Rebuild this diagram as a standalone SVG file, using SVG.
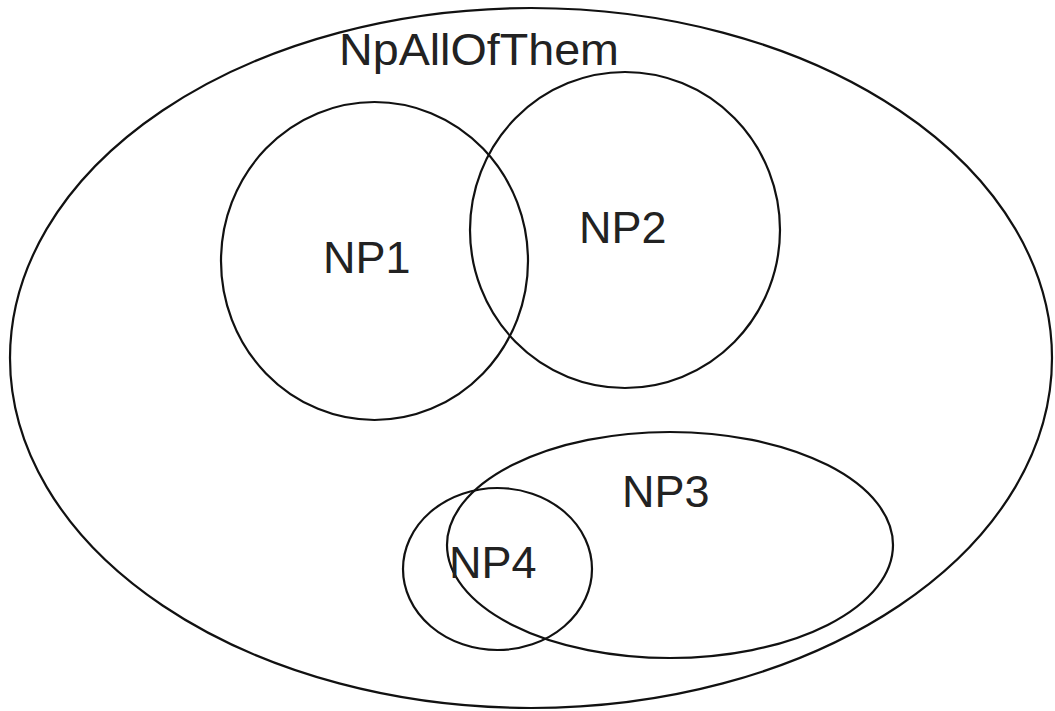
<svg xmlns="http://www.w3.org/2000/svg" width="1055" height="711" viewBox="0 0 1055 711">
<style>
.s{fill:none;stroke:#111;stroke-width:2.2}
.t{font-family:"Liberation Sans",Arial,sans-serif;font-size:45px;fill:#222}
</style>
<rect width="1055" height="711" fill="#fff"/>
<g id="all"><ellipse class="s" cx="531" cy="358" rx="521" ry="350"/><text class="t" x="339" y="65" textLength="280" lengthAdjust="spacingAndGlyphs">NpAllOfThem</text></g>
<g id="np1"><ellipse class="s" cx="374.5" cy="261" rx="153.5" ry="159"/><text class="t" x="323" y="273">NP1</text></g>
<g id="np2"><ellipse class="s" cx="625" cy="230" rx="155" ry="158"/><text class="t" x="579" y="243">NP2</text></g>
<g id="np3"><ellipse class="s" cx="670" cy="545" rx="223" ry="113"/><text class="t" x="622" y="507">NP3</text></g>
<g id="np4"><ellipse class="s" cx="497.5" cy="569" rx="94.5" ry="81"/><text class="t" x="449" y="578">NP4</text></g>
<g id="connectors"/>
</svg>
